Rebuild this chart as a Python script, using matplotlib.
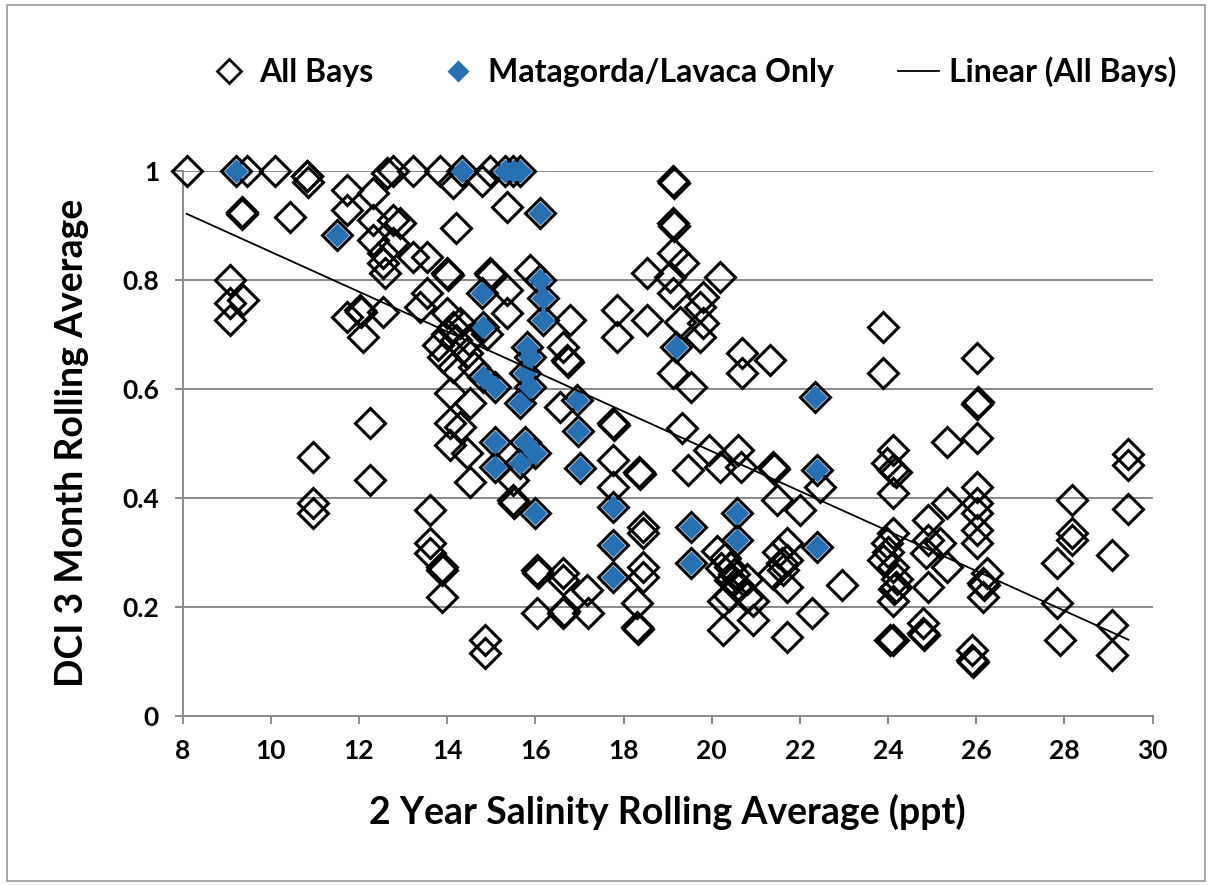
import numpy as np
import matplotlib.pyplot as plt
from matplotlib.lines import Line2D
from matplotlib.patches import Rectangle

# points that are only in "All Bays"
other_x = [8.09, 9.45, 10.09, 10.81, 10.81, 10.85, 11.72, 12.32, 12.63, 12.77, 13.22,
           9.34, 9.34, 10.43, 11.72, 12.32, 12.77, 12.32, 12.77, 12.54, 12.54, 12.58, 13.22,
           9.07, 9.37, 9.07, 9.07, 11.72, 12.02, 12.04, 12.09, 12.54, 12.25,
           13.84, 14.13, 14.78, 14.97, 15.35, 14.21, 12.93, 13.53, 13.99, 14.01, 14.97, 14.99,
           15.88, 13.53, 13.38, 13.99, 14.13, 14.21, 15.35, 15.35, 16.78, 17.84, 18.52, 17.84,
           18.52, 16.71, 16.73, 13.90, 14.44, 14.13, 16.63, 17.76, 17.78, 14.06, 14.52, 14.06,
           16.56, 14.0, 14.3, 14.5, 13.8, 14.6, 14.9,
           19.12, 19.14, 19.12, 19.14, 19.12, 19.35, 19.06, 20.19, 19.12, 19.81, 19.74, 19.28,
           19.81, 19.74, 19.12, 19.54, 20.68, 20.68, 21.32, 23.88, 23.88, 19.32,
           10.96, 10.96, 10.96, 12.25, 14.06, 14.44, 14.52, 15.49, 15.49, 15.51, 13.61, 13.61,
           13.61, 13.87, 13.89, 13.87, 14.86, 14.86, 16.03, 16.05, 16.63, 17.16, 16.03, 16.63,
           16.65, 17.19, 17.76, 18.36, 18.38, 17.76, 18.43, 18.43, 18.43, 18.43, 18.30, 18.30,
           18.32, 16.63, 14.29,
           19.47, 19.93, 20.19, 20.6, 20.67, 21.39, 21.41, 21.47, 22.0, 22.45, 20.11, 20.41,
           20.41, 20.57, 20.79, 20.94, 20.25, 20.25, 20.94, 21.70, 21.70, 21.62, 21.70, 21.70,
           22.27, 22.95, 24.11, 23.97, 24.19, 24.11, 23.97, 23.88, 24.11, 24.19, 24.11, 24.04,
           20.3, 20.5, 20.6, 20.4, 20.8, 20.2, 21.5, 21.6, 21.4, 24.2, 24.0,
           26.01, 26.01, 26.03, 26.01, 25.33, 26.01, 26.01, 26.01, 26.01, 26.01, 25.33, 24.90,
           24.90, 25.17, 24.87, 25.33, 24.90, 24.79, 24.81, 24.79, 24.11, 24.11, 24.13, 24.11,
           26.15, 26.17, 26.24, 26.15, 25.90, 25.90, 25.92, 28.16, 28.16, 28.16, 27.82, 27.82,
           27.90, 29.07, 29.07, 29.07, 29.45, 29.45, 29.45]
other_y = [1.0, 1.0, 1.0, 0.99, 0.99, 0.98, 0.964, 0.959, 0.995, 1.0, 1.0,
           0.924, 0.92, 0.915, 0.928, 0.909, 0.909, 0.872, 0.867, 0.849, 0.83, 0.812, 0.841,
           0.799, 0.762, 0.757, 0.726, 0.732, 0.744, 0.740, 0.694, 0.740, 0.537,
           1.0, 0.977, 0.982, 1.0, 0.934, 0.894, 0.904, 0.842, 0.812, 0.808, 0.812, 0.808,
           0.817, 0.775, 0.750, 0.739, 0.713, 0.689, 0.781, 0.739, 0.726, 0.744, 0.726, 0.694,
           0.812, 0.652, 0.648, 0.658, 0.665, 0.639, 0.676, 0.537, 0.533, 0.592, 0.573, 0.537,
           0.566, 0.70, 0.72, 0.69, 0.68, 0.64, 0.70,
           0.982, 0.978, 0.904, 0.898, 0.849, 0.830, 0.805, 0.805, 0.775, 0.768, 0.750, 0.722,
           0.720, 0.694, 0.628, 0.603, 0.665, 0.628, 0.652, 0.713, 0.628, 0.527,
           0.474, 0.390, 0.372, 0.432, 0.496, 0.482, 0.429, 0.432, 0.395, 0.390, 0.377, 0.317,
           0.298, 0.272, 0.268, 0.217, 0.139, 0.115, 0.267, 0.262, 0.249, 0.230, 0.188, 0.188,
           0.192, 0.188, 0.469, 0.447, 0.443, 0.419, 0.346, 0.335, 0.272, 0.254, 0.206, 0.162,
           0.158, 0.261, 0.529,
           0.450, 0.487, 0.456, 0.487, 0.456, 0.456, 0.452, 0.395, 0.377, 0.419, 0.302, 0.272,
           0.249, 0.236, 0.217, 0.211, 0.211, 0.157, 0.175, 0.317, 0.285, 0.267, 0.236, 0.144,
           0.188, 0.239, 0.487, 0.463, 0.447, 0.408, 0.317, 0.285, 0.272, 0.236, 0.211, 0.139,
           0.29, 0.26, 0.24, 0.22, 0.25, 0.27, 0.30, 0.28, 0.26, 0.25, 0.30,
           0.656, 0.571, 0.575, 0.509, 0.502, 0.419, 0.390, 0.372, 0.340, 0.317, 0.390, 0.359,
           0.322, 0.317, 0.298, 0.272, 0.236, 0.151, 0.147, 0.169, 0.450, 0.335, 0.232, 0.139,
           0.243, 0.239, 0.261, 0.217, 0.120, 0.102, 0.098, 0.395, 0.335, 0.322, 0.280, 0.206,
           0.139, 0.294, 0.166, 0.111, 0.480, 0.460, 0.379]

# Matagorda/Lavaca points (also part of All Bays)
mat_x = [9.21, 11.49, 14.33, 15.3, 15.5, 15.65, 16.10, 16.10, 16.17, 16.17, 14.78, 14.81,
         15.80, 15.88, 15.76, 15.88, 15.65, 14.81, 15.08, 16.94, 16.97, 17.01, 19.20, 22.34,
         15.08, 15.08, 15.76, 15.99, 15.65, 15.99, 17.76, 17.76, 17.76, 19.54, 19.54,
         20.57, 20.57, 22.38, 22.38]
mat_y = [1.0, 0.882, 1.0, 1.0, 1.0, 1.0, 0.922, 0.799, 0.766, 0.726, 0.775, 0.713,
         0.676, 0.658, 0.628, 0.603, 0.573, 0.621, 0.603, 0.579, 0.522, 0.454, 0.676, 0.584,
         0.502, 0.457, 0.502, 0.482, 0.463, 0.372, 0.383, 0.313, 0.254, 0.346, 0.280,
         0.372, 0.322, 0.450, 0.309]

# Excel trendline on the full data set
trend_slope = -0.0366
trend_icpt = 1.217

all_x = np.array(other_x + mat_x)
all_y = np.array(other_y + mat_y)

blue = '#2771b3'
grid_col = '#8a8a8a'
font = ['Lato', 'DejaVu Sans']

fig = plt.figure(figsize=(12.1, 8.85), dpi=100)
fig.patches.append(Rectangle((0.006, 0.004), 0.99, 0.99, transform=fig.transFigure,
                             fill=False, edgecolor='#9a9a9a', lw=1.2))
ax = fig.add_axes([0.151, 0.1915, 0.8016, 0.6156])

tx = np.array([all_x.min(), all_x.max()])

ax.plot(all_x, all_y, linestyle='none', marker='D', ms=15, mfc='none', mec='black',
        mew=2.2, clip_on=False, zorder=3)
ax.plot(mat_x, mat_y, linestyle='none', marker='D', ms=12.5, mfc=blue, mec='none',
        clip_on=False, zorder=4)
ax.plot(tx, trend_slope * tx + trend_icpt, color='black', lw=1.3, zorder=5)

ax.set_xlim(8, 30)
ax.set_ylim(0, 1)
ax.set_xticks(np.arange(8, 31, 2))
ax.set_yticks([0, 0.2, 0.4, 0.6, 0.8, 1])
ax.set_yticklabels(['0', '0.2', '0.4', '0.6', '0.8', '1'])
ax.yaxis.grid(True, color=grid_col, lw=1.4)
ax.set_axisbelow(True)
for s in ['top', 'right']:
    ax.spines[s].set_visible(False)
for s in ['left', 'bottom']:
    ax.spines[s].set_color(grid_col)
    ax.spines[s].set_linewidth(1.4)
ax.tick_params(axis='both', direction='out', length=6, width=1.4, color=grid_col,
               labelsize=19, pad=11)
for lab in ax.get_xticklabels() + ax.get_yticklabels():
    lab.set_family(font)
    lab.set_fontweight('bold')

ax.set_xlabel('2 Year Salinity Rolling Average (ppt)', fontsize=27, fontweight='bold',
              family=font, labelpad=22)
ax.set_ylabel('DCI 3 Month Rolling Average', fontsize=27, fontweight='bold',
              family=font, labelpad=24)

handles = [Line2D([], [], linestyle='none', marker='D', ms=12, mfc='none', mec='black', mew=2),
           Line2D([], [], linestyle='none', marker='D', ms=11, mfc=blue, mec='none'),
           Line2D([], [], color='black', lw=1.3)]
fig.legend(handles, ['All Bays', 'Matagorda/Lavaca Only', 'Linear (All Bays)'],
           loc='center', bbox_to_anchor=(0.572, 0.919), ncol=3, frameon=False,
           prop={'family': font, 'weight': 'bold', 'size': 23},
           handlelength=1.3, handletextpad=0.3, columnspacing=2.0)

fig.savefig('out.png', dpi=100)
